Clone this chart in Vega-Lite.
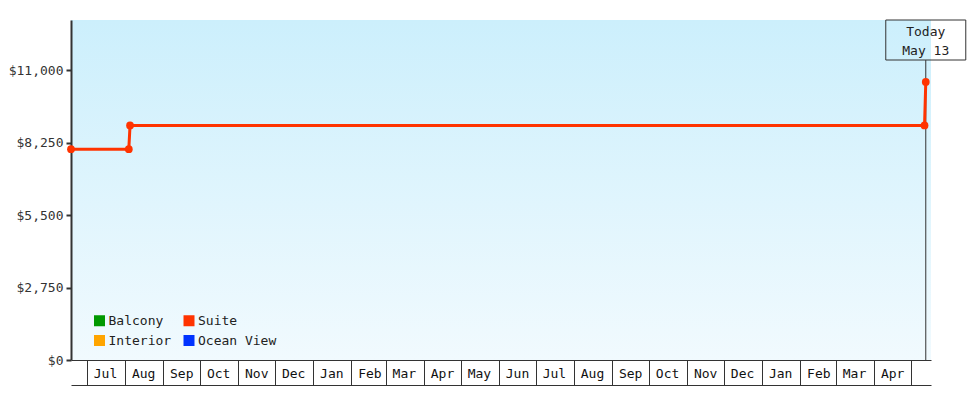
{
  "$schema": "https://vega.github.io/schema/vega-lite/v6.json",
  "width": 860,
  "height": 340,
  "autosize": {"type": "none"},
  "padding": {"left": 71, "top": 20, "right": 49, "bottom": 40},
  "background": "white",
  "config": {
    "font": "DejaVu Sans Mono",
    "view": {
      "stroke": null,
      "fill": {
        "gradient": "linear",
        "x1": 0, "y1": 0, "x2": 0, "y2": 1,
        "stops": [
          {"offset": 0, "color": "#cceffc"},
          {"offset": 1, "color": "#f1fafe"}
        ]
      }
    }
  },
  "datasets": {
    "prices": [
      {"date": "2022-06-18T00:00", "price": 8000, "cabin": "Suite"},
      {"date": "2022-08-04T00:00", "price": 8000, "cabin": "Suite"},
      {"date": "2022-08-05T00:00", "price": 8900, "cabin": "Suite"},
      {"date": "2024-05-12T00:00", "price": 8900, "cabin": "Suite"},
      {"date": "2024-05-13T00:00", "price": 10550, "cabin": "Suite"}
    ],
    "today": [
      {"date": "2024-05-13T00:00", "label": "Today\nMay 13"}
    ]
  },
  "layer": [
    {
      "data": {"name": "today"},
      "mark": {"type": "rule", "color": "#333333", "strokeWidth": 1},
      "encoding": {
        "x": {
          "field": "date", "type": "temporal",
          "scale": {"type": "time", "domain": [{"year": 2022, "month": 6, "date": 18}, {"year": 2024, "month": 5, "date": 17, "hours": 6}]},
          "axis": {"orient": "bottom", "offset": 25, "domain": true, "domainColor": "#333333", "domainWidth": 1, "ticks": false, "labels": false, "grid": false, "title": null}
        },
        "y": {"datum": 0, "type": "quantitative"},
        "y2": {"datum": 11380}
      }
    },
    {
      "data": {"name": "prices"},
      "mark": {"type": "line", "strokeWidth": 3, "point": {"filled": true, "size": 60}},
      "encoding": {
        "x": {
          "field": "date", "type": "temporal",
          "axis": {
            "orient": "bottom",
            "title": null,
            "grid": false,
            "values": [
              {"year": 2022, "month": 7, "date": 1}, {"year": 2022, "month": 8, "date": 1}, {"year": 2022, "month": 9, "date": 1},
              {"year": 2022, "month": 10, "date": 1}, {"year": 2022, "month": 11, "date": 1}, {"year": 2022, "month": 12, "date": 1},
              {"year": 2023, "month": 1, "date": 1}, {"year": 2023, "month": 2, "date": 1}, {"year": 2023, "month": 3, "date": 1},
              {"year": 2023, "month": 4, "date": 1}, {"year": 2023, "month": 5, "date": 1}, {"year": 2023, "month": 6, "date": 1},
              {"year": 2023, "month": 7, "date": 1}, {"year": 2023, "month": 8, "date": 1}, {"year": 2023, "month": 9, "date": 1},
              {"year": 2023, "month": 10, "date": 1}, {"year": 2023, "month": 11, "date": 1}, {"year": 2023, "month": 12, "date": 1},
              {"year": 2024, "month": 1, "date": 1}, {"year": 2024, "month": 2, "date": 1}, {"year": 2024, "month": 3, "date": 1},
              {"year": 2024, "month": 4, "date": 1}, {"year": 2024, "month": 5, "date": 1}
            ],
            "format": "%b",
            "labelExpr": "(year(datum.value) == 2024 && month(datum.value) == 4) ? '' : datum.label",
            "domain": true,
            "domainColor": "#333333",
            "domainWidth": 1,
            "ticks": true,
            "tickSize": 25,
            "tickWidth": 1,
            "tickColor": "#333333",
            "labelAlign": "center",
            "labelBaseline": "middle",
            "labelOffset": 18,
            "labelPadding": -12,
            "labelFlush": false,
            "labelOverlap": false,
            "labelBound": false,
            "labelFont": "DejaVu Sans Mono",
            "labelFontSize": 13,
            "labelColor": "#111111"
          }
        },
        "y": {
          "field": "price", "type": "quantitative",
          "scale": {"domain": [0, 12900], "nice": false, "zero": true},
          "axis": {
            "title": null,
            "grid": false,
            "values": [0, 2750, 5500, 8250, 11000],
            "format": "$,.0f",
            "domainColor": "#333333",
            "domainWidth": 2,
            "tickColor": "#333333",
            "tickWidth": 2,
            "tickSize": 5,
            "labelPadding": 3,
            "labelFont": "DejaVu Sans Mono",
            "labelFontSize": 13,
            "labelColor": "#333333"
          }
        },
        "color": {
          "field": "cabin", "type": "nominal",
          "scale": {
            "domain": ["Balcony", "Interior", "Suite", "Ocean View"],
            "range": ["#009900", "#ffa500", "#ff3300", "#0033ff"]
          },
          "legend": {
            "title": null,
            "orient": "none",
            "legendX": 22,
            "legendY": 294,
            "columns": 2,
            "columnPadding": 10.5,
            "rowPadding": 6,
            "padding": 0,
            "symbolType": "square",
            "symbolSize": 121,
            "symbolStrokeWidth": 0,
            "labelOffset": 2.5,
            "labelFont": "DejaVu Sans Mono",
            "labelFontSize": 13,
            "labelColor": "#222222",
            "encode": {
              "symbols": {
                "update": {
                  "fill": {"scale": "color", "field": "value"},
                  "strokeWidth": {"value": 0},
                  "opacity": {"value": 1}
                }
              }
            }
          }
        }
      }
    },
    {
      "data": {"name": "today"},
      "mark": {"type": "point", "shape": "M-1,0H1V1H-1Z", "size": 6400, "filled": false, "stroke": "#333333", "strokeWidth": 1, "opacity": 1, "clip": false},
      "encoding": {
        "x": {"field": "date", "type": "temporal", "axis": null},
        "y": {"datum": 12900, "type": "quantitative"}
      }
    },
    {
      "data": {"name": "today"},
      "mark": {"type": "text", "lineBreak": "\n", "baseline": "top", "align": "center", "dy": 6, "lineHeight": 18.5, "font": "DejaVu Sans Mono", "fontSize": 13, "color": "#222222", "clip": false},
      "encoding": {
        "x": {"field": "date", "type": "temporal", "axis": null},
        "y": {"datum": 12900, "type": "quantitative"},
        "text": {"field": "label"}
      }
    }
  ],
  "resolve": {"axis": {"x": "independent"}}
}
